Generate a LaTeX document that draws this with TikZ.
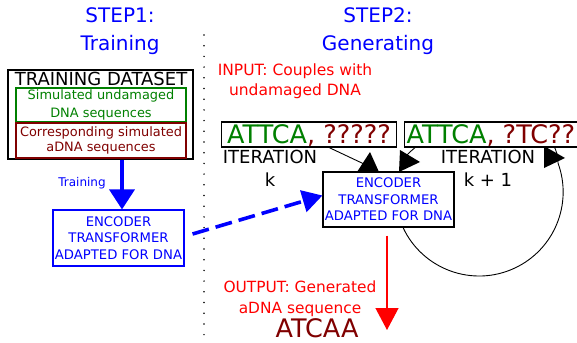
\documentclass[tikz,border=0pt]{standalone}
\usepackage{fontspec}
\setmainfont{DejaVu Sans}
\usetikzlibrary{arrows.meta}
\definecolor{dgreen}{RGB}{0,128,0}
\definecolor{dred}{RGB}{128,0,0}
\begin{document}
\begin{tikzpicture}[x=1pt,y=-1pt,
  title/.style={blue, align=center, font=\fontsize{20}{28}\selectfont},
  encbox/.style={draw=blue, line width=1.1pt, fill=white, text=blue, align=center, inner sep=0pt,
     minimum width=131pt, minimum height=55pt, font=\fontsize{13.2}{16.6}\selectfont},
  seqbox/.style={draw=black, line width=1.2pt, fill=white, inner xsep=2pt, inner ysep=3pt,
     text height=18.5pt, text depth=0.5pt, font=\fontsize{25.5}{26}\selectfont},
  subbox/.style={draw, line width=1.1pt, align=center, inner sep=0pt,
     minimum width=170pt, minimum height=34pt},
  iter/.style={align=center, font=\fontsize{18}{23}\selectfont},
  redtxt/.style={red, align=center, font=\fontsize{15.5}{20.5}\selectfont},
  thin/.style={line width=0.9pt}
]
\useasboundingbox (0,0) rectangle (577,342);
\clip (0,0) rectangle (577,342);

% titles
\node[title] (s1) at (120,31) {STEP1:\\Training};
\node[title] (s2) at (378,31) {STEP2:\\Generating};

% separator
\draw[line width=1.7pt, dash pattern=on 0pt off 10.7pt, line cap=round] (204,35) -- (204,338);

% training dataset
\node[draw, line width=1.6pt, minimum width=185pt, minimum height=89pt, inner sep=0pt] (ds) at (100.5,114.5) {};
\node[font=\fontsize{18}{20}\selectfont, inner sep=0pt] (dst) at (101,79) {TRAINING DATASET};
\node[subbox, dgreen, font=\fontsize{12.9}{17.5}\selectfont] (gbox) at (101,105) {Simulated undamaged\\DNA sequences};
\node[subbox, dred, minimum height=35pt, font=\fontsize{12.9}{15.5}\selectfont] (rbox) at (101,140.5) {Corresponding simulated\\aDNA sequences};

% left encoder
\node[encbox, minimum height=56pt] (lenc) at (118.5,238) {ENCODER\\TRANSFORMER\\ADAPTED FOR DNA};
\draw[blue, line width=3.6pt, -{Triangle[length=20pt,width=25pt]}] ([xshift=21.5pt]ds.south) -- ([xshift=3.5pt]lenc.north);
\node[blue, font=\fontsize{12}{14}\selectfont] (tr) at (82,183) {Training};

% loop (behind the boxes)
\coordinate (lp1) at (403,227.5);
\coordinate (lp2) at (406,156);
\draw[thin] (lp1) arc[start angle=155, end angle=-20, radius=84]
   .. controls (558,106) and (446,112) .. (lp2);

% right encoder
\node[encbox, draw=black] (renc) at (388.5,199.5) {ENCODER\\TRANSFORMER\\ADAPTED FOR DNA};

% dashed transfer arrow
\draw[blue, line width=3.6pt, dash pattern=on 17pt off 7pt, -{Triangle[length=20pt,width=22pt]}]
  ([xshift=8pt,yshift=4pt]lenc.east) -- ([yshift=4pt]renc.west);

% input text
\node[redtxt] (inp) at (295,81) {INPUT: Couples with\\undamaged DNA};

% sequence boxes
\node[seqbox, anchor=west, minimum width=175pt] (q1) at (221,134.5) {\textcolor{dgreen}{ATTCA}\textcolor{dred}{, ?????}};
\node[seqbox, anchor=west] (q2) at (404,134.5) {\textcolor{dgreen}{ATTCA}\textcolor{dred}{, ?TC??}};

% iteration labels
\node[iter] (it1) at (270,168) {ITERATION\\k};
\node[iter] (it2) at (488,168) {ITERATION\\k + 1};

% black arrows
\draw[thin] ([xshift=-68pt]q1.south east) -- (364,164);
\fill (370,152) -- (357,172) -- (379,172) -- cycle;
\fill (400,150) -- (420,162) -- (399,172) -- cycle;
\fill (544,146) -- (565,158) -- (544,168) -- cycle;

% output
\draw[red, line width=1.3pt, -{Triangle[length=22pt,width=23pt]}] ([xshift=-1.5pt,yshift=-8pt]renc.south) -- (387,330);
\node[redtxt, font=\fontsize{15.4}{21}\selectfont] (out) at (300,298.5) {OUTPUT: Generated\\aDNA sequence};
\node[dred, anchor=base, font=\fontsize{25.5}{26}\selectfont, inner sep=0pt] (res) at (317,337.5) {ATCAA};
\end{tikzpicture}
\end{document}
